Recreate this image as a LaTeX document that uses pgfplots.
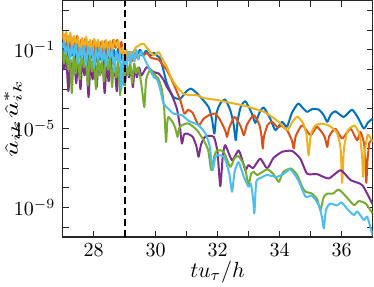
\documentclass[border=0pt]{standalone}
\usepackage{graphicx}
\usepackage{pgfplots}
\pgfplotsset{compat=1.18}
\definecolor{mblue}{rgb}{0,0.447,0.741}
\definecolor{morange}{rgb}{0.85,0.325,0.098}
\definecolor{myellow}{rgb}{0.929,0.694,0.125}
\definecolor{mpurple}{rgb}{0.494,0.184,0.556}
\definecolor{mgreen}{rgb}{0.466,0.674,0.188}
\definecolor{mcyan}{rgb}{0.301,0.745,0.933}
\begin{document}
\begin{tikzpicture}
\path[use as bounding box] (-31.25pt,-24.5pt) rectangle (155.75pt,118.5pt);
\begin{axis}[
  at={(0,0)}, anchor=south west,
  scale only axis, width=155pt, height=118.25pt,
  xmin=27, xmax=37, ymode=log, ymin=3.16e-11, ymax=31.6,
  xtick={28,30,32,34,36}, minor xtick={27,29,31,33,35,37},
  ytick={1e-9,1e-5,1e-1}, minor ytick={1e-10,1e-8,1e-7,1e-6,1e-4,1e-3,1e-2,1,10},
  tick align=inside, major tick length=3pt, minor tick length=3pt,
  every tick/.style={black!85, line width=0.5pt},
  axis line style={black!85, line width=0.6pt},
  xlabel={$tu_\tau/h$}, ylabel={\scalebox{1.55}[1]{$\hat{u}_{ik}\hat{u}^*_{ik}$}},
  xlabel style={font=\fontsize{11}{13}\selectfont, at={(axis description cs:0.5,-0.148)}, anchor=center},
  ylabel style={font=\fontsize{9}{11}\selectfont, at={(axis description cs:-0.1887,0.5)}, anchor=north, inner sep=0pt},
  every axis plot/.append style={line width=1pt, line join=round, smooth, tension=0.35},
]
% blue
\addplot[mblue] coordinates {
(27.00,2.5e-1)(27.04,7.9e-2)(27.10,2.0e-1)(27.17,2.5e-2)(27.23,1.58e-1)(27.30,5.0e-2)(27.36,1.78e-1)(27.43,2.0e-2)(27.49,1.26e-1)(27.56,4.0e-2)
(27.62,1.58e-1)(27.69,3.16e-2)(27.75,1.41e-1)(27.82,1.58e-2)(27.88,1.26e-1)(27.95,4.0e-2)(28.01,1.58e-1)(28.08,2.5e-2)(28.14,1.26e-1)(28.21,3.16e-2)
(28.27,1.41e-1)(28.34,1.26e-2)(28.40,1.12e-1)(28.47,3.55e-2)(28.53,1.26e-1)(28.60,2.0e-2)(28.66,1e-1)(28.73,3.16e-2)(28.79,1.12e-1)(28.86,2.5e-2)
(28.92,7.9e-2)(28.99,1.58e-2)(29.05,6.3e-2)(29.12,3.16e-2)(29.18,7.9e-2)(29.25,3.55e-2)(29.31,8.9e-2)(29.40,5.0e-2)(29.50,1e-1)(29.60,5.6e-2)
(29.70,8.9e-2)(29.82,5.0e-2)(29.95,7.1e-2)(30.05,5.0e-2)(30.15,3.55e-2)(30.25,1e-2)(30.37,1.9e-3)(30.58,4.0e-4)(30.8,3.3e-4)(31.0,7.9e-4)
(31.14,1.07e-3)(31.3,7.1e-4)(31.45,4.0e-4)(31.71,1.26e-4)(31.82,3.16e-5)(31.9,5.6e-6)(31.97,6.3e-5)(32.1,2.0e-4)(32.25,2.95e-4)(32.42,7.9e-5)
(32.52,1.58e-5)(32.59,2.57e-6)(32.65,2.5e-5)(32.75,1.26e-4)(32.9,2.45e-4)(33.1,6.3e-5)(33.22,1.95e-5)(33.35,6.3e-5)(33.49,1.17e-4)(33.7,3.16e-5)
(33.87,8.3e-6)(34.08,2.2e-5)(34.24,1.23e-5)(34.4,6.3e-5)(34.6,1.86e-4)(34.75,1.12e-4)(34.89,7.1e-5)(35.07,1e-4)(35.27,9.1e-5)(35.42,5.0e-5)
(35.54,2.2e-5)(35.65,5.0e-5)(35.8,7.6e-5)(36.07,3.9e-5)(36.34,9.1e-5)(36.55,3.16e-5)(36.72,1e-5)(36.85,2.0e-5)(37.0,3.2e-5)
};
% orange
\addplot[morange] coordinates {
(27.00,5.0e-1)(27.05,3.16e-1)(27.10,6.3e-1)(27.16,1.26e-1)(27.22,5.0e-1)(27.29,7.9e-2)(27.35,4.0e-1)(27.41,1.58e-1)(27.47,5.0e-1)(27.54,6.3e-2)
(27.60,3.16e-1)(27.67,1e-1)(27.73,3.55e-1)(27.80,5.0e-2)(27.86,2.5e-1)(27.93,7.9e-2)(27.99,2.82e-1)(28.06,4.0e-2)(28.12,2.24e-1)(28.19,1e-1)
(28.25,2.5e-1)(28.32,6.3e-2)(28.38,2.82e-1)(28.45,4.5e-2)(28.51,2.5e-1)(28.58,7.9e-2)(28.64,3.16e-1)(28.71,1.26e-1)(28.77,3.16e-1)(28.84,1e-1)
(28.90,2.5e-1)(28.97,3.16e-2)(29.03,7.9e-2)(29.10,2.82e-2)(29.16,6.3e-2)(29.23,2.5e-2)(29.30,5.6e-2)(29.40,4.0e-2)(29.50,5.6e-2)(29.60,5.0e-2)
(29.72,6.8e-2)(29.85,4.0e-2)(29.95,3.55e-2)(30.1,3.16e-2)(30.25,1.58e-2)(30.37,9.1e-3)(30.58,1.9e-3)(30.8,2.75e-4)(30.93,5.75e-5)(31.05,8.9e-5)
(31.2,6.3e-5)(31.39,1.48e-5)(31.55,3.16e-5)(31.75,5.0e-5)(31.93,5.75e-5)(32.1,2.5e-5)(32.25,7.9e-6)(32.31,3.8e-6)(32.37,1e-5)(32.55,3.9e-5)
(32.75,1.26e-5)(32.85,4.6e-6)(32.95,1.58e-5)(33.17,4.8e-5)(33.35,1.58e-5)(33.42,4.0e-6)(33.46,9.8e-7)(33.5,4.0e-6)(33.62,1.58e-5)(33.76,2.2e-5)
(33.95,1.12e-5)(34.05,1.41e-5)(34.25,7.9e-6)(34.4,2.5e-6)(34.46,9.8e-7)(34.52,4.0e-6)(34.73,1.48e-5)(35.0,4.6e-6)(35.21,1.23e-5)(35.45,4.0e-6)
(35.54,1.17e-6)(35.6,4.0e-6)(35.8,1e-5)(36.02,3.16e-6)(36.29,1e-5)(36.5,2.57e-6)(36.61,6.8e-6)(36.72,2.0e-6)(36.77,2.5e-7)(36.8,1.78e-8)
(36.84,2.5e-7)(36.9,2.0e-6)(37.0,2.57e-6)
};
% yellow
\addplot[myellow] coordinates {
(27.00,8.9e-1)(27.06,2.5e-1)(27.12,7.9e-1)(27.18,2.0e-1)(27.25,7.1e-1)(27.31,1.26e-1)(27.37,5.0e-1)(27.44,1.78e-1)(27.50,4.5e-1)(27.57,7.9e-2)
(27.63,4.0e-1)(27.70,1.26e-1)(27.76,4.5e-1)(27.83,1e-1)(27.89,3.16e-1)(27.96,6.3e-2)(28.02,3.55e-1)(28.09,1.41e-1)(28.15,3.16e-1)(28.22,5.0e-2)
(28.28,2.82e-1)(28.35,1.12e-1)(28.41,3.16e-1)(28.48,7.1e-2)(28.54,2.82e-1)(28.61,1e-1)(28.67,3.16e-1)(28.74,1.58e-1)(28.80,2.82e-1)(28.87,6.3e-2)
(28.93,1.26e-1)(29.00,3.55e-2)(29.06,1e-1)(29.13,3.16e-2)(29.19,7.9e-2)(29.26,5.0e-2)(29.35,1.26e-1)(29.45,1.58e-1)(29.55,2.0e-1)(29.62,2.0e-1)
(29.75,1.12e-1)(29.94,5.2e-2)(30.1,7.6e-2)(30.2,4.0e-2)(30.37,1.3e-2)(30.5,4.0e-3)(30.69,1.3e-3)(30.9,5.9e-4)(31.1,5.0e-4)(31.34,4.9e-4)
(31.55,3.55e-4)(31.77,3.16e-4)(32.0,2.82e-4)(32.3,2.24e-4)(32.6,1.78e-4)(32.9,1.41e-4)(33.2,1e-4)(33.5,7.1e-5)(33.8,3.55e-5)(34.0,2.0e-5)
(34.25,8.3e-6)(34.4,2.0e-5)(34.57,4.0e-5)(34.75,2.0e-5)(34.87,5.0e-6)(34.94,4.5e-7)(35.01,5.0e-6)(35.15,1.41e-5)(35.35,1.78e-5)(35.6,1.41e-5)
(35.85,6.3e-6)(35.97,1e-6)(36.02,1.78e-8)(36.08,1e-6)(36.2,7.9e-6)(36.42,1.41e-5)(36.58,5.0e-6)(36.66,5.0e-7)(36.7,3.55e-8)(36.75,6.3e-7)
(36.85,5.0e-6)(37.0,2.1e-6)
};
% purple
\addplot[mpurple] coordinates {
(27.00,3.16e-2)(27.05,1e-2)(27.12,4.0e-2)(27.19,7.9e-4)(27.25,3.16e-2)(27.31,4.0e-3)(27.38,4.0e-2)(27.44,2.0e-3)(27.51,2.5e-2)(27.58,1e-3)
(27.64,3.16e-2)(27.71,5.0e-3)(27.77,2.5e-2)(27.84,4.0e-4)(27.90,2.0e-2)(27.97,3.16e-3)(28.03,2.5e-2)(28.10,1.26e-3)(28.16,2.0e-2)(28.23,6.3e-3)
(28.29,2.5e-2)(28.36,6.3e-4)(28.42,1.58e-2)(28.49,2.5e-3)(28.55,2.0e-2)(28.62,4.0e-3)(28.68,1.58e-2)(28.75,7.9e-4)(28.81,1.26e-2)(28.88,3.16e-3)
(28.94,1.26e-2)(29.01,1.58e-3)(29.07,1.58e-2)(29.14,4.0e-3)(29.20,1.26e-2)(29.27,1.26e-3)(29.33,1.26e-2)(29.40,4.0e-3)(29.47,1.26e-2)(29.55,5.0e-3)
(29.72,1.32e-2)(29.94,7.4e-3)(30.1,6.3e-3)(30.25,3.16e-3)(30.37,1.29e-3)(30.53,4.9e-4)(30.69,1.02e-4)(30.78,1.58e-5)(30.85,1.74e-6)(30.92,5.0e-6)
(31.02,5.6e-6)(31.2,3.8e-6)(31.32,1.26e-6)(31.39,3.7e-7)(31.47,1.58e-6)(31.61,4.0e-6)(31.88,3.8e-6)(32.0,6.3e-7)(32.09,1.2e-8)(32.17,4.0e-7)
(32.25,1.45e-6)(32.47,2.5e-7)(32.68,7.9e-7)(32.82,2.0e-7)(32.9,7.8e-8)(33.0,1.41e-7)(33.15,1e-7)(33.38,3.0e-7)(33.6,9.5e-8)(33.8,3.16e-7)
(34.08,6.6e-7)(34.4,7.4e-7)(34.67,3.0e-7)(34.89,5.2e-8)(35.21,4.9e-8)(35.59,2.95e-8)(35.97,7.8e-8)(36.29,2.45e-8)(36.67,1.35e-8)(37.0,1.48e-9)
};
% green
\addplot[mgreen] coordinates {
(27.00,1e-1)(27.05,2.0e-2)(27.11,1e-1)(27.18,1e-2)(27.24,6.3e-2)(27.30,6.3e-4)(27.36,5.0e-2)(27.43,6.3e-3)(27.49,7.9e-2)(27.56,3.16e-3)
(27.62,6.3e-2)(27.69,1.26e-2)(27.75,5.0e-2)(27.82,1.58e-3)(27.88,6.3e-2)(27.95,7.9e-3)(28.01,4.0e-2)(28.08,1e-3)(28.14,5.0e-2)(28.21,5.0e-3)
(28.27,3.16e-2)(28.34,2.5e-3)(28.40,5.0e-2)(28.47,1e-2)(28.53,4.0e-2)(28.60,1.26e-3)(28.66,3.16e-2)(28.73,4.0e-3)(28.79,2.5e-2)(28.86,5.0e-4)
(28.92,1.58e-2)(28.99,1.58e-3)(29.05,2.0e-2)(29.12,5.0e-3)(29.18,2.5e-2)(29.25,2.0e-3)(29.31,2.0e-2)(29.38,6.3e-3)(29.44,1.26e-2)(29.52,3.16e-3)
(29.58,6.3e-4)(29.64,1.26e-4)(29.70,3.16e-3)(29.83,1e-2)(29.94,6.3e-3)(30.1,3.16e-3)(30.21,8.7e-4)(30.28,1e-4)(30.34,2.1e-6)(30.38,2.0e-5)
(30.42,3.9e-5)(30.58,1.82e-5)(30.66,7.9e-6)(30.71,3.8e-6)(30.76,1e-5)(30.85,1.48e-5)(31.07,1.82e-5)(31.34,8.3e-6)(31.55,2.57e-6)(31.7,7.9e-7)
(31.8,7.8e-8)(31.9,4.0e-7)(31.98,7.9e-7)(32.2,6.6e-7)(32.41,1.15e-7)(32.55,3.16e-7)(32.68,4.0e-7)(32.88,1.15e-7)(33.0,1.35e-8)(33.08,5.0e-8)
(33.17,6.5e-8)(33.28,4.4e-8)(33.6,8.5e-8)(33.8,5.0e-8)(33.98,2.0e-8)(34.12,6.3e-8)(34.37,9.5e-8)(34.57,4.4e-8)(34.73,1.12e-8)(34.84,6.3e-9)
(35.05,5.0e-9)(35.22,2.5e-9)(35.32,7.4e-10)(35.42,3.16e-9)(35.54,5.1e-9)(35.72,5.0e-9)(35.91,8.1e-9)(36.15,3.55e-9)(36.4,1.32e-9)(36.56,2.1e-9)
(36.78,1.58e-9)(37.0,5.0e-10)
};
% cyan
\addplot[mcyan] coordinates {
(27.00,1.26e-1)(27.05,2.5e-1)(27.11,6.3e-2)(27.18,2.0e-1)(27.24,3.16e-2)(27.30,1.58e-1)(27.37,5.0e-2)(27.43,2.0e-1)(27.50,2.0e-2)(27.56,1.26e-1)
(27.63,4.0e-2)(27.69,1.58e-1)(27.76,1.58e-2)(27.82,1.41e-1)(27.89,5.0e-2)(27.95,1.26e-1)(28.02,1.26e-2)(28.08,1.12e-1)(28.15,3.16e-2)(28.21,1.26e-1)
(28.28,2.5e-2)(28.34,1e-1)(28.41,1.58e-2)(28.47,1.12e-1)(28.54,4.0e-2)(28.60,1e-1)(28.67,7.9e-3)(28.73,7.9e-2)(28.80,2.5e-2)(28.85,6.3e-2)
(28.90,1e-3)(28.96,5.0e-2)(29.06,1.26e-2)(29.12,7.9e-2)(29.19,2.0e-2)(29.25,7.9e-2)(29.32,2.5e-2)(29.38,1e-1)(29.45,3.16e-2)(29.52,7.9e-2)
(29.62,4.3e-2)(29.72,2.0e-2)(29.83,9.1e-3)(29.95,4.0e-3)(30.05,3.16e-3)(30.15,1e-3)(30.26,1.86e-4)(30.42,1e-4)(30.58,5.75e-5)(30.85,4.8e-5)
(31.07,2.5e-5)(31.39,1.48e-5)(31.61,5.6e-6)(31.75,1.26e-6)(31.84,7.8e-8)(31.92,3.16e-7)(32.0,4.5e-7)(32.22,3.55e-7)(32.38,5.0e-8)(32.47,6.3e-9)
(32.55,6.3e-8)(32.68,2.0e-7)(32.85,3.55e-8)(33.0,1.12e-8)(33.08,1.58e-8)(33.15,2.5e-9)(33.19,5.0e-10)(33.25,2.0e-8)(33.4,3.16e-8)(33.6,4.4e-8)
(33.9,3.55e-8)(34.13,5.0e-8)(34.35,8.5e-8)(34.6,2.5e-8)(34.84,3.5e-9)(35.05,4.0e-9)(35.27,1.26e-9)(35.37,3.16e-10)(35.43,8.7e-11)(35.5,7.9e-10)
(35.64,1.58e-9)(35.85,1.26e-9)(36.0,1.78e-9)(36.2,7.9e-10)(36.4,4.1e-10)(36.51,6.3e-10)(36.72,2.3e-10)(36.83,3.4e-10)(37.0,4.0e-11)
};
% dashed line
\addplot[black, line width=1pt, dash pattern=on 3.5pt off 2pt, line join=miter, sharp plot] coordinates {(29,3.16e-11) (29,31.6)};
\end{axis}
\end{tikzpicture}
\end{document}
